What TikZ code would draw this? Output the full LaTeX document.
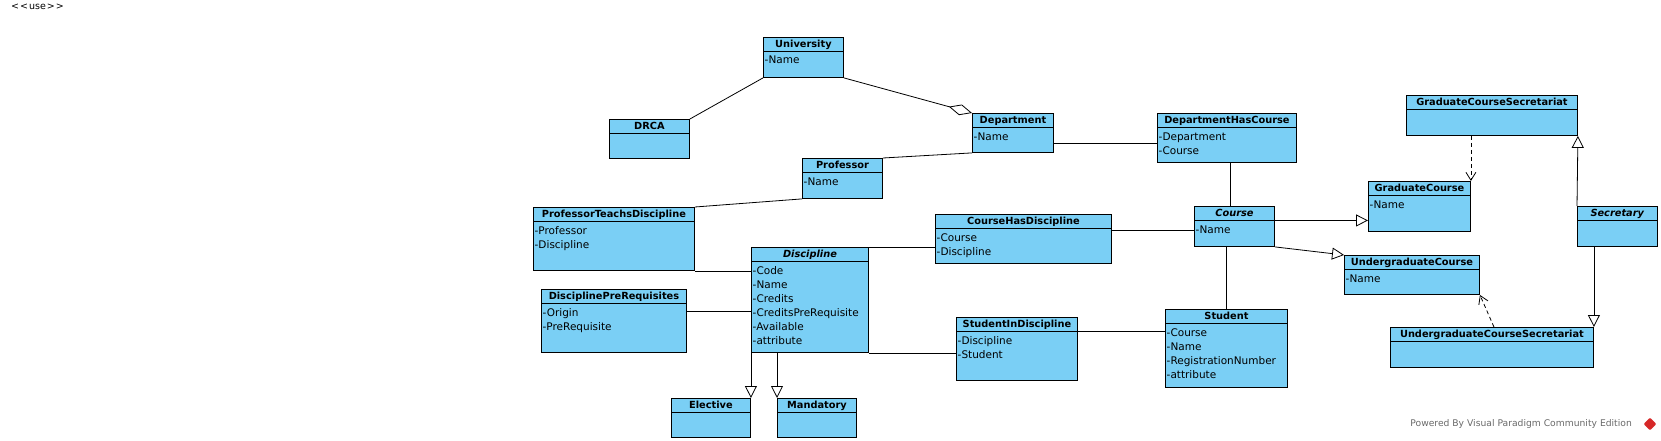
\documentclass[tikz,border=0pt]{standalone}
\usepackage{fontspec}
\setmainfont{DejaVu Sans}
\usetikzlibrary{arrows.meta}
\definecolor{classfill}{RGB}{122,207,245}
\definecolor{vpgray}{RGB}{105,105,105}
\definecolor{vpred}{RGB}{214,40,40}
\tikzset{
  classbox/.style={draw=black, fill=classfill, line width=0.9pt, inner sep=0pt, anchor=north west},
  classtitle/.style={font=\fontsize{9.8}{12}\selectfont\bfseries, inner sep=0pt, text height=7.2pt, text depth=0pt},
  classattr/.style={font=\fontsize{10.5}{14}\selectfont, inner sep=0pt, anchor=base west},
  assoc/.style={draw=black, line width=0.8pt},
  generalize/.style={assoc, -{Triangle[open, length=12pt, width=12pt]}},
  aggregate/.style={assoc, -{Diamond[open, length=24pt, width=11pt]}},
  depend/.style={assoc, dash pattern=on 4pt off 3pt, -{Straight Barb[length=8pt, width=10pt]}},
}
% class box: name, left, top, width, height, title
\newcommand{\umlclass}[6]{%
  \node[classbox, minimum width=#4pt, minimum height=#5pt] (#1) at (#2,#3) {};
  \draw[line width=0.9pt] ([yshift=-14pt]#1.north west) -- ([yshift=-14pt]#1.north east);
  \node[classtitle] (#1-title) at ([yshift=-7pt]#1.north) {#6};
}
% attributes under the header
\newcommand{\umlattrs}[2]{%
  \foreach \attr [count=\row] in {#2}
    \node[classattr] (#1-attr\row) at ([xshift=1.5pt, yshift={-13pt-14pt*\row}]#1.north west) {\attr};
}
\begin{document}
\begin{tikzpicture}[x=1pt,y=-1pt]
  \useasboundingbox (0,0) rectangle (1661,441);
  % Classes
  \umlclass{university}{763}{37}{80}{40}{University}
  \umlattrs{university}{-Name}
  \umlclass{drca}{609}{119}{80}{39}{DRCA}
  \umlclass{department}{972}{113}{81}{39}{Department}
  \umlattrs{department}{-Name}
  \umlclass{dhc}{1157}{113}{139}{49}{DepartmentHasCourse}
  \umlattrs{dhc}{-Department,-Course}
  \umlclass{professor}{802}{158}{80}{40}{Professor}
  \umlattrs{professor}{-Name}
  \umlclass{ptd}{533}{207}{161}{63}{ProfessorTeachsDiscipline}
  \umlattrs{ptd}{-Professor,-Discipline}
  \umlclass{discipline}{751}{247}{117}{105}{\textit{Discipline}}
  \umlattrs{discipline}{-Code,-Name,-Credits,-CreditsPreRequisite,-Available,-attribute}
  \umlclass{dpr}{541}{289}{145}{63}{DisciplinePreRequisites}
  \umlattrs{dpr}{-Origin,-PreRequisite}
  \umlclass{chd}{935}{214}{176}{49}{CourseHasDiscipline}
  \umlattrs{chd}{-Course,-Discipline}
  \umlclass{course}{1194}{206}{80}{40}{\textit{Course}}
  \umlattrs{course}{-Name}
  \umlclass{student}{1165}{309}{122}{78}{Student}
  \umlattrs{student}{-Course,-Name,-RegistrationNumber,-attribute}
  \umlclass{sid}{956}{317}{121}{63}{StudentInDiscipline}
  \umlattrs{sid}{-Discipline,-Student}
  \umlclass{elective}{671}{398}{79}{39}{Elective}
  \umlclass{mandatory}{777}{398}{79}{39}{Mandatory}
  \umlclass{gcs}{1406}{95}{171}{40}{GraduateCourseSecretariat}
  \umlclass{gradcourse}{1368}{181}{102}{50}{GraduateCourse}
  \umlattrs{gradcourse}{-Name}
  \umlclass{secretary}{1577}{206}{80}{40}{\textit{Secretary}}
  \umlclass{undercourse}{1344}{255}{135}{39}{UndergraduateCourse}
  \umlattrs{undercourse}{-Name}
  \umlclass{ucs}{1390}{327}{203}{40}{UndergraduateCourseSecretariat}
  % Associations
  \draw[assoc] (university.south west) -- (drca.north east);
  \draw[aggregate] (university.south east) -- (department.north west);
  \coordinate (dept-link) at ([yshift=-10pt]department.east);
  \draw[assoc] (dept-link) -- (dept-link -| dhc.west);
  \coordinate (dhc-link) at ([xshift=3pt]dhc.south);
  \draw[assoc] (dhc-link) -- (dhc-link |- course.north);
  \draw[assoc] (professor.north east) -- (department.south west);
  \draw[assoc] (professor.south west) -- (ptd.north east);
  \draw[assoc] (ptd.south east) -- (ptd.south east -| discipline.west);
  \coordinate (dpr-link) at ([yshift=10pt]dpr.east);
  \draw[assoc] (dpr-link) -- (dpr-link -| discipline.west);
  \draw[assoc] (discipline.north east) -- (discipline.north east -| chd.west);
  \coordinate (chd-link) at ([yshift=9pt]chd.east);
  \draw[assoc] (chd-link) -- (chd-link -| course.west);
  \draw[assoc] (discipline.south east) -- (discipline.south east -| sid.west);
  \coordinate (sid-link) at ([yshift=-14pt]sid.north east);
  \draw[assoc] (sid-link) -- (sid-link -| student.west);
  \draw[assoc] (student.north) -- (student.north |- course.south);
  % Generalizations
  \coordinate (course-link) at ([yshift=6pt]course.east);
  \draw[generalize] (course-link) -- (course-link -| gradcourse.west);
  \draw[generalize] (course.south east) -- (undercourse.north west);
  \draw[generalize] (secretary.north west) -- (gcs.south east);
  \draw[generalize] (ucs.north east |- secretary.south) -- (ucs.north east);
  \draw[generalize] (elective.north east |- discipline.south) -- (elective.north east);
  \draw[generalize] (mandatory.north west |- discipline.south) -- (mandatory.north west);
  % Dependencies
  \draw[depend] (gradcourse.north east |- gcs.south) -- (gradcourse.north east);
  \coordinate (ucs-link) at ([xshift=2pt]ucs.north);
  \draw[depend] (ucs-link) -- (undercourse.south east);
  % Labels
  \node[anchor=west, inner sep=0pt, font=\fontsize{9.5}{11}\selectfont] (use-label) at (11,7) {<\kern1pt<\kern1pt use\kern1pt>\kern1pt>};
  \node[anchor=east, inner sep=0pt, text=vpgray, font=\fontsize{9.2}{11}\selectfont] (powered) at (1632,424) {Powered By Visual Paradigm Community Edition};
  \node[fill=vpred, rotate=45, minimum size=9pt, inner sep=0pt, rounded corners=1pt] (vp-logo) at (1650,424) {};
\end{tikzpicture}
\end{document}
